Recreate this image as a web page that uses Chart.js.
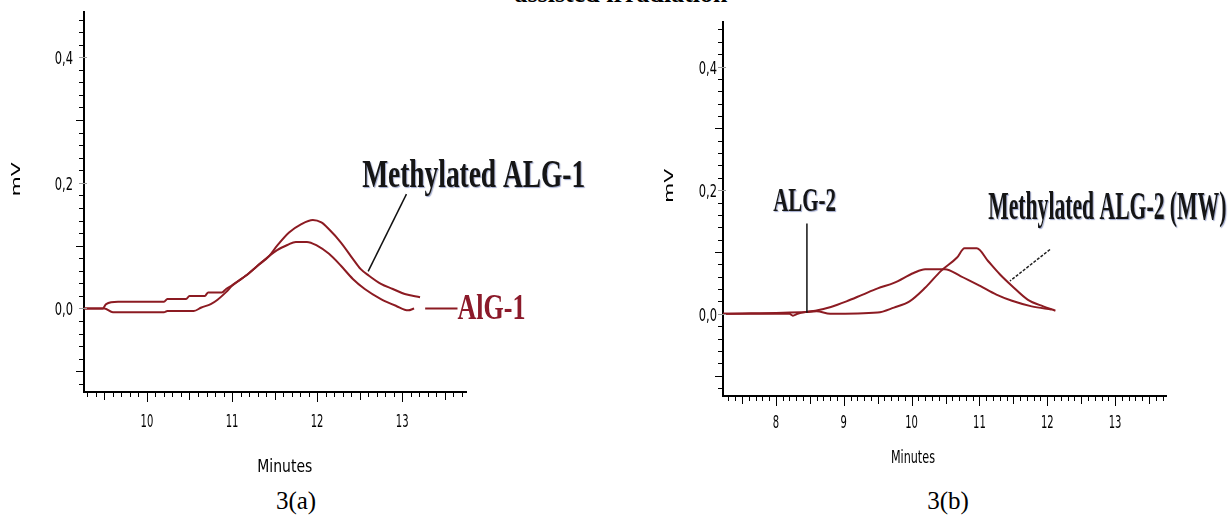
<!DOCTYPE html>
<html>
<head>
<meta charset="utf-8">
<script src="https://cdn.jsdelivr.net/npm/chart.js@4.4.1/dist/chart.umd.min.js"></script>
<style>
    body { margin: 0; background: #fff; width: 1231px; height: 515px; position: relative; overflow: hidden; }
    .panel { position: absolute; top: 0; height: 480px; }
    #panelA { left: 0; width: 620px; }
    #panelB { left: 620px; width: 611px; }
    .caption { position: absolute; font: 25px "Liberation Serif", "Times New Roman", serif; line-height: 1; color: #000; white-space: nowrap; transform: translateX(-50%); }
    #heading { top: -19px; left: 621px; font-size: 26px; font-weight: bold; }
</style>
</head>
<body>
<div id="heading" class="caption">assisted irradiation</div>
<div class="panel" id="panelA"><canvas id="chartA"></canvas></div>
<div class="panel" id="panelB"><canvas id="chartB"></canvas></div>
<div class="caption" style="left:296px; top:488px">3(a)</div>
<div class="caption" style="left:948px; top:488px">3(b)</div>

<script>
/*
| GPC traces (mV vs minutes)
*/

// 3(a)
const alg1Minutes = [9.26, 9.48, 9.52, 9.66, 10.2, 10.24, 10.46, 10.5, 10.68, 10.72, 10.88, 10.93, 11.0, 11.16, 11.3, 11.44, 11.53, 11.65, 11.75, 11.88, 12.0, 12.14, 12.28, 12.42, 12.56, 12.75, 12.93, 13.07, 13.14];
const alg1Signal  = [0, 0, 0.007, 0.0106, 0.0106, 0.015, 0.015, 0.02, 0.02, 0.0255, 0.0255, 0.031, 0.037, 0.052, 0.068, 0.084, 0.093, 0.101, 0.106, 0.106, 0.100, 0.087, 0.068, 0.047, 0.031, 0.015, 0.004, -0.003, 0];
const metAlg1Minutes = [9.26, 9.5, 9.6, 10.2, 10.24, 10.55, 10.64, 10.75, 10.83, 10.93, 11.0, 11.16, 11.3, 11.44, 11.53, 11.67, 11.81, 11.95, 12.05, 12.14, 12.28, 12.42, 12.51, 12.61, 12.75, 12.89, 13.03, 13.21];
const metAlg1Signal  = [0, 0, -0.006, -0.006, -0.004, -0.004, 0.0016, 0.007, 0.014, 0.026, 0.036, 0.052, 0.068, 0.084, 0.100, 0.121, 0.134, 0.141, 0.137, 0.126, 0.105, 0.079, 0.063, 0.052, 0.039, 0.031, 0.023, 0.018];

// 3(b)
const alg2Minutes = [7.22, 8.2, 8.25, 8.32, 8.45, 8.58, 8.81, 9.04, 9.28, 9.5, 9.74, 10.03, 10.2, 10.49, 10.72, 11.01, 11.25, 11.48, 11.77, 12.06];
const alg2Signal  = [0, 0, -0.003, 0, 0.003, 0.005, 0.011, 0.02, 0.031, 0.041, 0.05, 0.066, 0.072, 0.072, 0.061, 0.045, 0.031, 0.021, 0.012, 0.007];
const metAlg2Minutes = [7.22, 8.45, 8.6, 8.8, 9.5, 9.74, 9.97, 10.2, 10.43, 10.67, 10.78, 10.96, 11.13, 11.3, 11.48, 11.71, 11.94, 12.12];
const metAlg2Signal  = [0, 0.003, 0.004, 0, 0.002, 0.01, 0.02, 0.042, 0.069, 0.091, 0.106, 0.106, 0.085, 0.064, 0.045, 0.023, 0.012, 0.005];

// tick labels
const xTicksA = [10, 11, 12, 13];
const xTicksB = [8, 9, 10, 11, 12, 13];
const yTicks = [0, 0.2, 0.4];

const curveColor = "#8c1b22";
const tickFamily = '"Liberation Sans Narrow", "DejaVu Sans Condensed", "DejaVu Sans", sans-serif';
const serifFamily = '"Liberation Serif", "Times New Roman", serif';

function pairs(xs, ys) {
    return xs.map((x, i) => ({ x, y: ys[i] }));
}

const fmtY = v => v.toFixed(1).replace(".", ",");

// draws text stretched into a box (width x cap height), optionally rotated
function fitText(ctx, text, cx, left, base, width, capH, font, rotate = false) {
    ctx.save();
    ctx.font = font;
    const w = ctx.measureText(text).width;
    const cap = ctx.measureText("M").actualBoundingBoxAscent;
    ctx.translate(cx, base);
    if (rotate) ctx.rotate(-Math.PI / 2);
    ctx.scale(width / w, capH / cap);
    ctx.textBaseline = "alphabetic";
    ctx.textAlign = left ? "left" : "center";
    ctx.fillText(text, 0, 0);
    ctx.restore();
}

// tall, narrow tick text like the original software output
function tickText(ctx, text, x, yMid, align, sx, digitH) {
    ctx.save();
    ctx.font = "15px " + tickFamily;
    const cap = ctx.measureText("0").actualBoundingBoxAscent;
    const sy = digitH / cap;
    ctx.translate(x, yMid + digitH / 2);
    ctx.scale(sx, sy);
    ctx.textAlign = align;
    ctx.textBaseline = "alphabetic";
    ctx.fillText(text, 0, 0);
    ctx.restore();
}

// minor ticks, tick labels, axis titles, callouts
const decorPlugin = {
    id: "decor",
    afterDraw(chart, args, opts) {
        const { ctx, chartArea, scales: { x, y } } = chart;
        const bottom = chartArea.bottom;
        const left = chartArea.left;
        ctx.save();

        ctx.strokeStyle = "#000";
        ctx.lineWidth = 1;
        for (let k = Math.ceil(x.min * 10); k <= Math.floor(x.max * 10); k++) {
            const px = Math.round(x.getPixelForValue(k / 10)) + 0.5;
            const len = k % 10 === 0 ? 10 : (k % 5 === 0 ? 8 : 5);
            ctx.beginPath();
            ctx.moveTo(px, bottom);
            ctx.lineTo(px, bottom + len);
            ctx.stroke();
        }
        for (let k = Math.ceil(y.min * 50); k <= Math.floor(y.max * 50); k++) {
            const py = Math.round(y.getPixelForValue(k / 50)) + 0.5;
            const major = k % 10 === 0;
            const len = major ? 5 : (k % 5 === 0 ? 8 : 5);
            ctx.strokeStyle = major ? "#9a9a9a" : "#000";
            ctx.beginPath();
            ctx.moveTo(left - len, py);
            ctx.lineTo(left + (major ? 3 : 0), py);
            ctx.stroke();
        }

        // tick labels from the scales' own ticks
        ctx.fillStyle = "#000";
        x.ticks.forEach(t => {
            tickText(ctx, String(t.value), x.getPixelForValue(t.value), bottom + opts.xLabelDy, "center", 0.74, 14);
        });
        y.ticks.forEach(t => {
            tickText(ctx, fmtY(t.value), left - opts.yLabelDx, y.getPixelForValue(t.value), "right", 0.85, 14);
        });

        // axis titles
        const m = opts.minutes;
        fitText(ctx, "Minutes", x.getPixelForValue(m.at), false, bottom + m.base, m.width, m.cap, "15px " + tickFamily);
        const mv = opts.mv;
        fitText(ctx, "mV", left - mv.dx, false, y.getPixelForValue(mv.at), mv.length, mv.cap, "15px " + tickFamily, true);

        // leader lines
        (opts.leaders || []).forEach(l => {
            ctx.strokeStyle = l.color;
            ctx.lineWidth = l.width;
            ctx.setLineDash(l.dash || []);
            ctx.beginPath();
            ctx.moveTo(x.getPixelForValue(l.from[0]), y.getPixelForValue(l.from[1]));
            ctx.lineTo(x.getPixelForValue(l.to[0]), y.getPixelForValue(l.to[1]));
            ctx.stroke();
        });
        ctx.setLineDash([]);

        // labels
        (opts.notes || []).forEach(n => {
            const x0 = x.getPixelForValue(n.x0);
            const x1 = x.getPixelForValue(n.x1);
            const yb = y.getPixelForValue(n.base);
            const yt = y.getPixelForValue(n.top);
            ctx.save();
            ctx.fillStyle = n.color;
            if (n.shadow) {
                ctx.shadowColor = "rgba(40, 60, 140, 0.45)";
                ctx.shadowBlur = 1;
                ctx.shadowOffsetX = 1;
                ctx.shadowOffsetY = 1;
            }
            fitText(ctx, n.text, x0, true, yb, x1 - x0, yb - yt, "bold 30px " + serifFamily);
            ctx.restore();
        });

        ctx.restore();
    }
};

function createTraceChart({
    canvas,
    series = [],
    xRange,
    xTicks,
    padding,
    axisBox,
    decor
}) {
    return new Chart(canvas, {
        type: "line",
        data: {
            datasets: series.map(s => ({
                label: s.label,
                data: pairs(s.minutes, s.signal),
                borderColor: curveColor,
                borderWidth: 2,
                pointRadius: 0,
                fill: false,
                cubicInterpolationMode: "monotone"
            }))
        },
        options: {
            responsive: true,
            maintainAspectRatio: false,
            animation: false,
            layout: { padding },
            plugins: {
                legend: { display: false },
                tooltip: { enabled: false },
                decor
            },
            scales: {
                x: {
                    type: "linear",
                    min: xRange[0],
                    max: xRange[1],
                    afterBuildTicks: s => { s.ticks = xTicks.map(v => ({ value: v })); },
                    afterFit: s => { s.height = axisBox.x; },
                    grid: { display: false, drawTicks: false },
                    border: { display: true, color: "#000", width: 2 },
                    ticks: { display: false }
                },
                y: {
                    min: -0.133,
                    max: 0.472,
                    afterBuildTicks: s => { s.ticks = yTicks.map(v => ({ value: v })); },
                    afterFit: s => { s.width = axisBox.y; },
                    grid: { display: false, drawTicks: false },
                    border: { display: true, color: "#000", width: 2 },
                    ticks: { display: false, callback: fmtY }
                }
            }
        },
        plugins: [decorPlugin]
    });
}

createTraceChart({
    canvas: document.getElementById("chartA"),
    series: [
        { label: "AlG-1", minutes: alg1Minutes, signal: alg1Signal },
        { label: "Methylated ALG-1", minutes: metAlg1Minutes, signal: metAlg1Signal }
    ],
    xRange: [9.26, 13.75],
    xTicks: xTicksA,
    padding: { left: 0, top: 12, right: 154, bottom: 0 },
    axisBox: { x: 88, y: 84 },
    decor: {
        xLabelDy: 28,
        yLabelDx: 11,
        minutes: { at: 11.62, base: 80, width: 55, cap: 14 },
        mv: { dx: 64, at: 0.2056, length: 34, cap: 10 },
        leaders: [
            { from: [13.05, 0.182], to: [12.6, 0.059], color: "#111", width: 1.5 },
            { from: [13.27, 0.0], to: [13.65, 0.0], color: curveColor, width: 2 }
        ],
        notes: [
            { text: "Methylated ALG-1", x0: 12.53, x1: 15.15, base: 0.194, top: 0.234, color: "#151515", shadow: true },
            { text: "AlG-1", x0: 13.65, x1: 14.45, base: -0.0175, top: 0.019, color: "#8b1a2a" }
        ]
    }
});

createTraceChart({
    canvas: document.getElementById("chartB"),
    series: [
        { label: "ALG-2", minutes: alg2Minutes, signal: alg2Signal },
        { label: "Methylated ALG-2 (MW)", minutes: metAlg2Minutes, signal: metAlg2Signal }
    ],
    xRange: [7.22, 13.75],
    xTicks: xTicksB,
    padding: { left: 0, top: 22, right: 65, bottom: 0 },
    axisBox: { x: 84, y: 103 },
    decor: {
        xLabelDy: 25,
        yLabelDx: 6,
        minutes: { at: 10.02, base: 67, width: 44, cap: 14 },
        mv: { dx: 50, at: 0.207, length: 34, cap: 10 },
        leaders: [
            { from: [8.457, 0.146], to: [8.457, 0.0016], color: "#111", width: 1.5 },
            { from: [12.04, 0.104], to: [11.45, 0.053], color: "#222", width: 1.5, dash: [3, 1.5] }
        ],
        notes: [
            { text: "ALG-2", x0: 7.96, x1: 8.885, base: 0.167, top: 0.202, color: "#151515", shadow: true },
            { text: "Methylated ALG-2 (MW)", x0: 11.13, x1: 14.64, base: 0.154, top: 0.194, color: "#151515", shadow: true }
        ]
    }
});
</script>
</body>
</html>
